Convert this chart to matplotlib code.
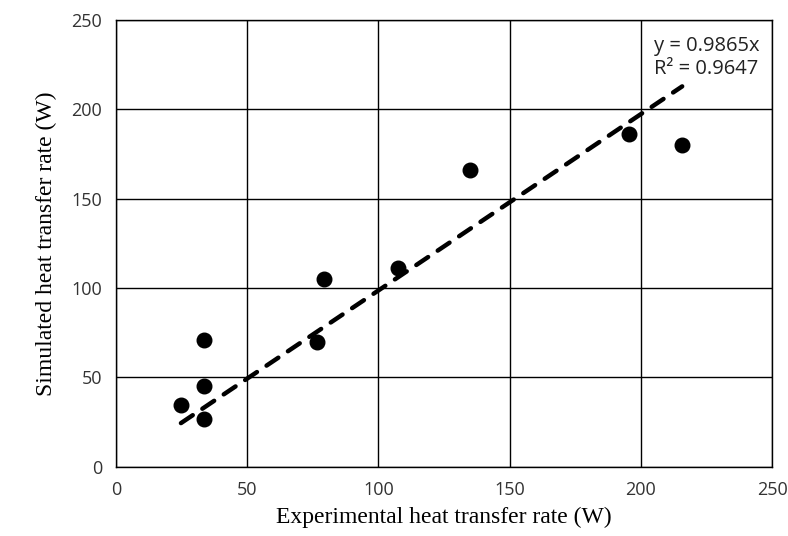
import numpy as np
import matplotlib
matplotlib.use("Agg")
import matplotlib.pyplot as plt

# Experimental vs simulated heat transfer rate (W)
experimental = [24.8, 33.5, 33.5, 33.5, 76.6, 79.3, 107.5, 134.9, 195.5, 215.7]
simulated = [34.7, 71.0, 45.3, 26.8, 69.9, 105.1, 111.3, 166.1, 186.2, 180.1]
slope = 0.9865
r_squared = 0.9647
ticks = [0, 50, 100, 150, 200, 250]

fig = plt.figure(figsize=(7.88, 5.36), dpi=100)
ax = fig.add_axes([0.147, 0.129, 0.833, 0.834])

# linear trendline through origin
xfit = np.array([min(experimental), max(experimental)])
ax.plot(xfit, slope * xfit, color="black", lw=3.2, dashes=(3.2, 2.6),
        dash_capstyle="round", zorder=2)
ax.scatter(experimental, simulated, s=110, color="black", zorder=3)

ax.set_xlim(0, 250)
ax.set_ylim(0, 250)
ax.set_xticks(ticks)
ax.set_yticks(ticks)
ax.grid(True, color="black", lw=1)
ax.set_axisbelow(True)
for sp in ax.spines.values():
    sp.set_linewidth(1)
ax.tick_params(length=0, pad=10, labelsize=13, labelcolor="#333333")
for lab in ax.get_xticklabels() + ax.get_yticklabels():
    lab.set_family("Open Sans")

ax.set_xlabel("Experimental heat transfer rate (W)", family="Liberation Serif",
              fontsize=17, labelpad=6)
ax.set_ylabel("Simulated heat transfer rate (W)", family="Liberation Serif",
              fontsize=17, labelpad=10)

ax.text(0.82, 0.915, "y = {}x\nR² = {}".format(slope, r_squared),
        transform=ax.transAxes, family="Open Sans", fontsize=14.5,
        linespacing=1.2, va="center", ha="left", color="#222222")

fig.savefig("out.png", dpi=100)
